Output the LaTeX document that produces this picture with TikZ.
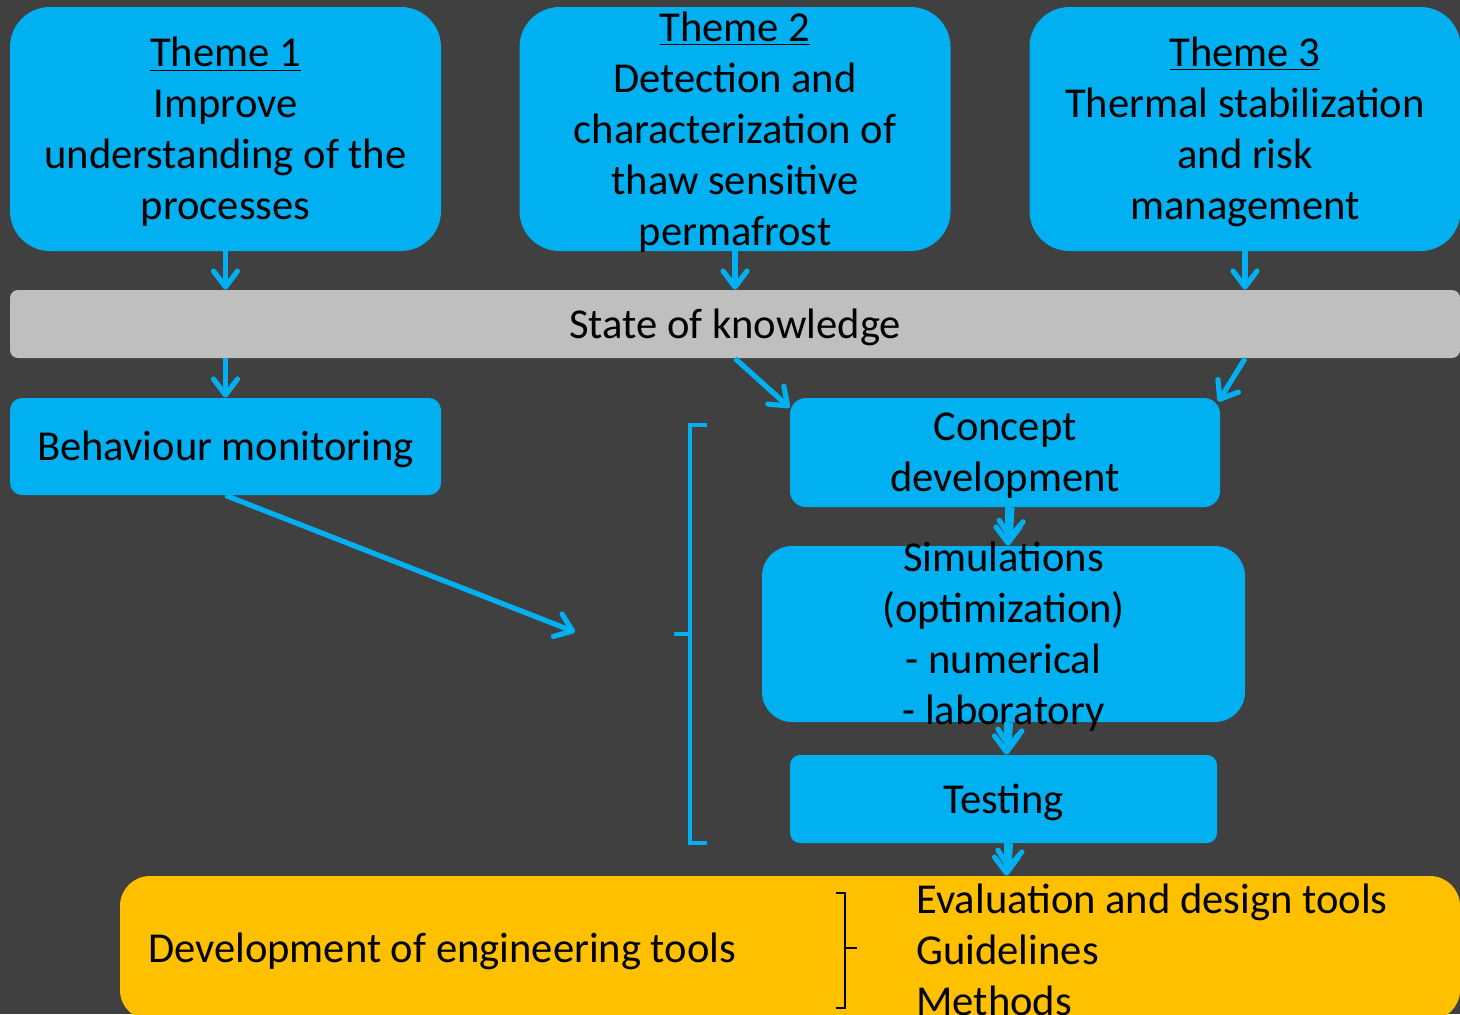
\documentclass[tikz,border=0pt]{standalone}
\usepackage{fontspec}
\setmainfont{Carlito}
\usetikzlibrary{arrows.meta}
\definecolor{bgdark}{HTML}{404040}
\definecolor{skyblue}{HTML}{00B0F0}
\definecolor{bargray}{HTML}{BFBFBF}
\definecolor{amber}{HTML}{FFC000}

\begin{document}
\begin{tikzpicture}[x=0.5pt, y=-0.5pt,
    font=\fontsize{21.3}{25.5}\selectfont,
    box/.style={fill=skyblue, inner sep=0pt, align=center},
    themebox/.style={box, rounded corners=20pt, minimum width=215.5pt, minimum height=122pt},
    link/.style={skyblue, line width=2.6pt, -{Straight Barb[length=8pt,width=12pt,round]}}]
  \fill[bgdark] (0,0) rectangle (1460,1014);
  \useasboundingbox (0,0) rectangle (1460,1014);

  % themes
  \node[themebox] (t1) at (225.5,129) {};
  \node[align=center, inner sep=0pt] (t1text) at ([yshift=-1.5pt]t1.center) {\underline{Theme 1}\\Improve\\understanding of the\\processes};
  \node[themebox] (t2) at (735,129) {};
  \node[align=center, inner sep=0pt] (t2text) at ([yshift=-1.5pt]t2.center) {\underline{Theme 2}\\Detection and\\characterization of\\thaw sensitive\\permafrost};
  \node[themebox] (t3) at (1245,129) {};
  \node[align=center, inner sep=0pt] (t3text) at ([yshift=-1.5pt]t3.center) {\underline{Theme 3}\\Thermal stabilization\\and risk\\management};

  \node[fill=bargray, rounded corners=4pt, minimum width=725pt, minimum height=34pt] (bar) at (735,324) {};
  \node[inner sep=0pt] (bartext) at ([yshift=-1.5pt]bar.center) {State of knowledge};

  % work packages
  \node[box, rounded corners=6pt, minimum width=215.5pt, minimum height=48.5pt] (beh) at (225.5,446.5) {};
  \node[inner sep=0pt] (behtext) at ([yshift=-1.5pt]beh.center) {Behaviour monitoring};
  \node[box, rounded corners=8pt, minimum width=215pt, minimum height=54.5pt] (con) at (1005,452.5) {};
  \node[align=center, inner sep=0pt] (context) at ([yshift=-1.5pt]con.center) {Concept\\development};
  \node[box, rounded corners=15pt, minimum width=241.5pt, minimum height=88pt] (sim) at (1003.5,634) {};
  \node[align=center, inner sep=0pt] (simtext) at ([yshift=-1.5pt]sim.center) {Simulations\\(optimization)\\- numerical\\- laboratory};
  \node[box, rounded corners=5pt, minimum width=213.5pt, minimum height=44pt] (test) at (1003.5,799) {};
  \node[inner sep=0pt] (testtext) at ([yshift=-1.5pt]test.center) {Testing};

  \node[fill=amber, rounded corners=15pt, minimum width=670pt, minimum height=72pt] (dev) at (790,948) {};
  \node[anchor=west, inner sep=0pt] (devtext) at ([xshift=14pt,yshift=-1.5pt]dev.west) {Development of engineering tools};
  \node[anchor=west, align=left, inner sep=0pt] (outputs) at (916,950) {Evaluation and design tools\\Guidelines\\Methods};
  \draw[line width=1pt] (836,893) -- (845,893) -- (845,1008) -- (836,1008);
  \draw[line width=1pt] (845,948) -- (857,948);

  % bracket round the development steps
  \draw[skyblue, line width=2pt] (707,425) -- (690,425) -- (690,843) -- (707,843);
  \draw[skyblue, line width=2pt] (690,634) -- (674,634);

  % arrows
  \draw[link] (t1.south) -- (t1.south |- bar.north);
  \draw[link] (t2.south) -- (t2.south |- bar.north);
  \draw[link] (t3.south) -- (t3.south |- bar.north);
  \draw[link] (bar.south -| beh.north) -- (beh.north);
  \draw[link] (bar.south) -- ([yshift=-5pt]con.north west);
  \draw[link] (bar.south -| t3.south) -- ([xshift=-1pt,yshift=-2pt]con.north east);
  \coordinate (monitorend) at (575,632);
  \draw[link] (beh.south) -- (monitorend);
  \foreach \from/\to in {con/sim, sim/test, test/dev}{
    \draw[link] ([xshift=1.5pt]\from.south) -- ([xshift=1.5pt]\from.south |- \to.north);
    \draw[link] ([xshift=3.5pt]\from.south) -- ([xshift=2.5pt,yshift=3pt]\from.south |- \to.north);
  }
\end{tikzpicture}
\end{document}
